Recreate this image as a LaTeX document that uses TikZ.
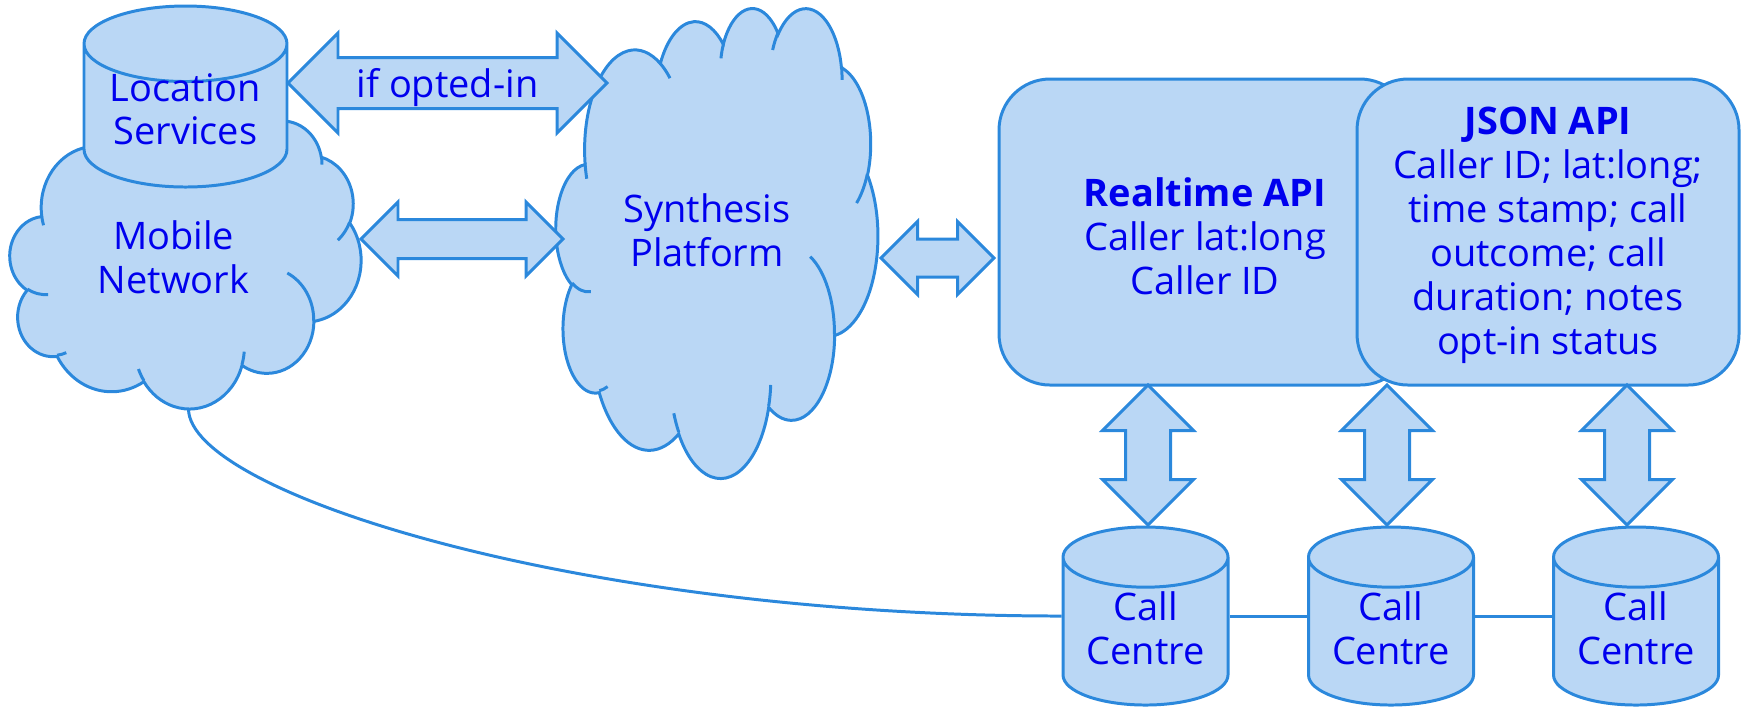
\documentclass[tikz,border=0pt]{standalone}
\usepackage{fontspec}
\setmainfont{Open Sans}
\usepackage{tikz}
\usetikzlibrary{shapes.geometric,shapes.arrows,positioning,calc}
\definecolor{edgeblue}{RGB}{43,136,220}
\definecolor{fillblue}{RGB}{186,215,245}
\definecolor{lidblue}{RGB}{214,230,249}
\definecolor{textblue}{RGB}{0,0,238}
\tikzset{%
  base/.style={
    draw=edgeblue,
    fill=fillblue,
    line width=0.85pt,
    text=textblue,
    align=center
  },
  database/.style={
    base,
    cylinder,
    shape border rotate=90,
    cylinder uses custom fill,
    cylinder body fill=fillblue,
    cylinder end fill=lidblue,
    inner sep=0pt,
    anchor=shape center,
    text height=0.65cm
  },
  apibox/.style={
    base,
    rectangle,
    rounded corners=0.51cm,
    inner sep=0pt
  },
  cloudbox/.style={
    rectangle,
    inner sep=0pt,
    text=textblue,
    align=center
  },
  bigarrow/.style={
    base,
    double arrow,
    double arrow tip angle=90,
    inner sep=0pt
  },
  cloudline/.style={
    draw=edgeblue,
    fill=fillblue,
    line width=0.85pt
  },
}
% cloud outline: top left corner, width, height
\newcommand\cloudat[3]{%
  \pgfmathsetmacro\cloudxs{#2*28.45274/4320}%
  \pgfmathsetmacro\cloudys{-#3*28.45274/4320}%
  \begin{scope}[shift={#1}, x=1pt, y=1pt, xscale=\cloudxs, yscale=\cloudys]
    \filldraw[cloudline] (390,1437)
      \foreach \s/\d/\rx/\ry in {172.25/128.11/675.3/919.0, -152.03/106.59/533.3/726.7,
        -153.49/116.16/436.5/594.5, -139.71/129.50/485.7/659.5, -74.77/97.98/533.3/727.3,
        -37.52/119.38/677.5/922.0, 0.46/121.52/578.5/786.7, 16.85/129.43/675.2/921.5,
        58.99/91.20/772.0/1054.3, 83.31/139.82/436.0/591.8, 120.36/143.76/434.5/594.5}
      {arc[start angle=\s, delta angle=\d, x radius=\rx pt, y radius=\ry pt]} -- cycle;
    \draw[cloudline, fill=none]
      \foreach \x/\y/\s/\d/\rx/\ry in {469.3/2617.7/85.55/34.81/434.5/594.5,
        692.8/3489.9/68.24/15.07/436.0/591.8, 1647.8/3909.0/146.28/12.20/675.2/921.5,
        2882.7/3475.1/4.74/12.11/675.2/921.5, 3412.9/2295.4/-64.03/64.49/578.5/786.7,
        4179.8/1535.4/23.21/26.42/533.3/727.3, 3832.4/542.6/-10.21/11.03/485.7/659.5,
        2907.8/395.2/-156.29/16.58/485.7/659.5, 2214.1/472.0/-167.73/14.24/436.5/594.5,
        1400.0/519.2/-59.64/13.92/675.3/919.0, 412.7/1578.9/163.19/9.06/675.3/919.0}
      {(\x,\y) arc[start angle=\s, delta angle=\d, x radius=\rx pt, y radius=\ry pt]};
  \end{scope}}

\begin{document}
\begin{tikzpicture}[font=\fontsize{10.8}{12.5}\selectfont]
  \useasboundingbox (0,0) rectangle (17.42,-7.06);

  \cloudat{(0.10,-1.20)}{3.51}{2.88}
  \node[cloudbox, minimum width=3.51cm, minimum height=2.88cm, text depth=0.14cm] (mobile) at (1.735,-2.64) {Mobile\\Network};
  \cloudat{(5.56,-0.07)}{3.22}{4.70}
  \node[cloudbox, minimum width=3.22cm, minimum height=4.70cm, text depth=0.24cm] (synth) at (7.07,-2.42) {Synthesis\\Platform};

  \node[database, aspect=0.5, minimum width=2.03cm, minimum height=1.81cm, text height=0.58cm] (locsrv) at (1.855,-0.965) {Location\\Services};

  \node[apibox, minimum width=4.12cm, minimum height=3.06cm, text height=1.25cm] (realtime) at (12.05,-2.32)
    {\textbf{Realtime API}\\Caller lat:long\\Caller ID};
  \node[apibox, minimum width=3.82cm, minimum height=3.06cm, text height=2.54cm] (json) at (15.48,-2.32)
    {\textbf{JSON API}\\Caller ID; lat:long;\\time stamp; call\\outcome; call\\duration; notes\\opt-in status};

  \node[database, aspect=0.51, minimum width=1.65cm, minimum height=1.78cm] (cc1) at (11.455,-6.16) {Call\\Centre};
  \node[database, aspect=0.51, minimum width=1.65cm, minimum height=1.78cm] (cc2) at (13.91,-6.16) {Call\\Centre};
  \node[database, aspect=0.51, minimum width=1.65cm, minimum height=1.78cm] (cc3) at (16.36,-6.16) {Call\\Centre};

  \draw[edgeblue, line width=0.85pt] ($(mobile.south)+(0.15,0)$) .. controls +(0,-0.84) and +(-4.83,0) .. (cc1.shape center -| cc1.west);
  \draw[edgeblue, line width=0.85pt] (cc1.shape center -| cc1.east) -- (cc2.shape center -| cc2.west);
  \draw[edgeblue, line width=0.85pt] (cc2.shape center -| cc2.east) -- (cc3.shape center -| cc3.west);

  \node[bigarrow, minimum height=3.19cm, double arrow head extend=0.245cm,
    text height=0.38cm, text depth=0.10cm] (optin) at (4.475,-0.83) {if opted-in};
  \node[bigarrow, minimum height=2.02cm, double arrow head extend=0.175cm,
    text height=0.36cm, text depth=0cm] (mob2syn) at (4.62,-2.39) {};
  \node[bigarrow, minimum height=1.13cm, double arrow head extend=0.175cm,
    text height=0.35cm, text depth=0cm] (syn2api) at (9.375,-2.58) {};
  \foreach \x/\n in {11.48/1, 13.87/2, 16.27/3}
    \node[bigarrow, rotate=90, minimum height=1.40cm, double arrow head extend=0.23cm,
      text height=0.42cm, text depth=0cm] (down\n) at (\x,-4.55) {};
\end{tikzpicture}
\end{document}
